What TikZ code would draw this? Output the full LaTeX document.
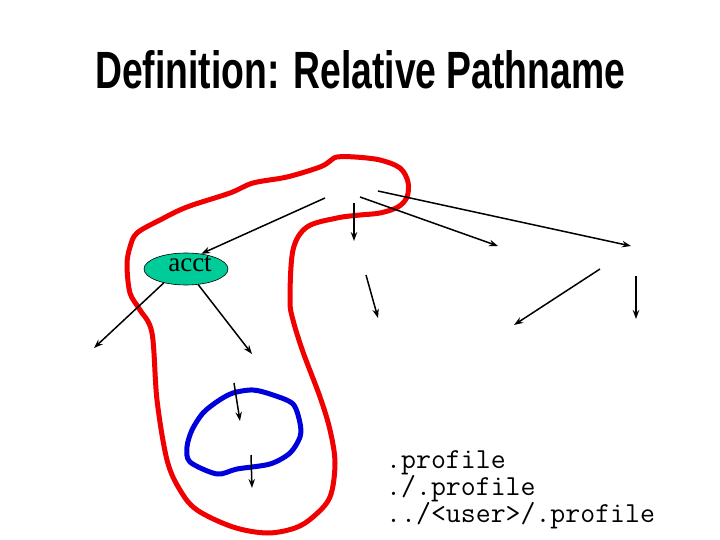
\documentclass[tikz,border=0pt]{standalone}
\usepackage{fontspec}
\setmainfont{Liberation Serif}
\newfontfamily\titlefont{Liberation Sans}
\usetikzlibrary{arrows.meta,shapes.geometric}
\definecolor{accgreen}{RGB}{0,204,153}
\definecolor{loopred}{RGB}{240,0,0}
\definecolor{loopblue}{RGB}{0,0,220}
\tikzset{
  arr/.style={line width=1.5pt,-{Stealth[length=9pt,width=6.5pt]}},
  pathtext/.style={anchor=base west,inner sep=0pt,font=\ttfamily\fontsize{29}{27}\selectfont},
}
\begin{document}
\begin{tikzpicture}[x=1pt,y=-1pt]
\useasboundingbox (0,0) rectangle (720,540);
\node[anchor=south west,inner sep=0pt] (title) at (95,89)
  {\resizebox{530pt}{38pt}{\titlefont\bfseries Definition: Relative Pathname}};

% red loop
\draw[loopred,line width=5pt,line join=round] plot[smooth cycle,tension=0.55] coordinates {
 (337,157) (355,157) (380,160) (400,168) (408,182) (407,197) (398,207) (380,213)
 (360,215) (337,218) (307,227) (293,250) (290,300) (293,320) (303,352) (320,397)
 (330,430) (335,463) (330,497) (313,517) (295,528) (267,533) (233,527) (197,510)
 (180,490) (167,460) (157,400) (152,333) (140,310) (130,293) (127,265) (130,247)
 (137,233) (160,220) (187,207) (230,193) (253,183) (287,177) (320,167) (330,161)};

% blue loop
\draw[loopblue,line width=5pt,line join=round] plot[smooth cycle,tension=0.5] coordinates {
 (233,393) (253,390) (273,395) (293,404) (300,423) (300,437) (290,453) (270,464)
 (237,469) (217,474) (190,462) (187,447) (192,430) (203,413) (218,401)};

\node[ellipse,draw=black,line width=0.6pt,fill=accgreen,minimum width=84pt,minimum height=32pt,inner sep=0pt] (acct) at (186,269) {};
\node[anchor=base,inner sep=0pt,font=\fontsize{27}{27}\selectfont] (accttext) at (190,271) {acct};

\coordinate (s1) at (325,198);
\coordinate (s2) at (354,203); \coordinate (e2) at (354,241);
\coordinate (s3) at (360,197); \coordinate (e3) at (498,246);
\coordinate (s4) at (378,191); \coordinate (e4) at (631,246);
\coordinate (e5) at (94,348);
\coordinate (e6) at (252,354);
\coordinate (s7) at (366,275); \coordinate (e7) at (378,318);
\coordinate (s8) at (600,269); \coordinate (e8) at (514,325);
\coordinate (s9) at (636,276); \coordinate (e9) at (636,319);
\coordinate (s10) at (234,383); \coordinate (e10) at (240,421);
\coordinate (s11) at (251,455); \coordinate (e11) at (252,488);

\draw[arr] (s1) -- (acct.45);
\draw[arr] (s2) -- (e2);
\draw[arr] (s3) -- (e3);
\draw[arr] (s4) -- (e4);
\draw[arr] (acct.212) -- (e5);
\draw[arr] (acct.-52) -- (e6);
\draw[arr] (s7) -- (e7);
\draw[arr] (s8) -- (e8);
\draw[arr] (s9) -- (e9);
\draw[arr] (s10) -- (e10);
\draw[arr] (s11) -- (e11);

\node[pathtext] (p1) at (386,468) {.profile};
\node[pathtext] (p2) at (386,495) {./.profile};
\node[pathtext] (p3) at (386,522) {../<user>/.profile};
\end{tikzpicture}
\end{document}
